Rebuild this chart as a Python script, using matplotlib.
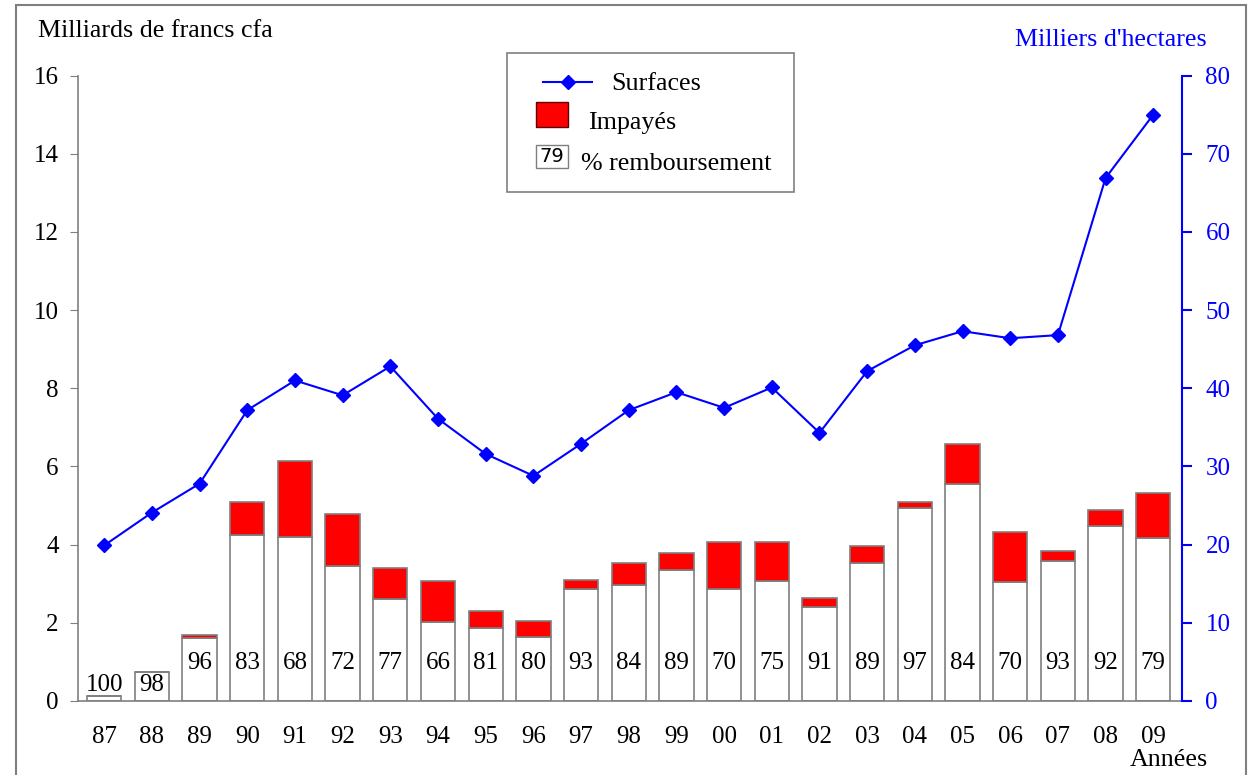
import matplotlib.pyplot as plt
from matplotlib.patches import Rectangle
from matplotlib.lines import Line2D

# ----------------------------
# Data
# ----------------------------
years = ["87", "88", "89", "90", "91", "92", "93", "94", "95", "96", "97", "98",
         "99", "00", "01", "02", "03", "04", "05", "06", "07", "08", "09"]
# total credit (milliards FCFA) and the repaid part
total = [0.13, 0.74, 1.69, 5.09, 6.14, 4.79, 3.40, 3.07, 2.30, 2.05, 3.10, 3.53,
         3.79, 4.07, 4.07, 2.64, 3.97, 5.10, 6.58, 4.33, 3.84, 4.89, 5.32]
repaid = [0.13, 0.74, 1.61, 4.25, 4.20, 3.46, 2.61, 2.02, 1.87, 1.64, 2.87, 2.97,
          3.35, 2.87, 3.07, 2.41, 3.53, 4.94, 5.56, 3.05, 3.58, 4.48, 4.17]
pct = [100, 98, 96, 83, 68, 72, 77, 66, 81, 80, 93, 84,
       89, 70, 75, 91, 89, 97, 84, 70, 93, 92, 79]
# surfaces (milliers d'hectares)
surfaces = [19.9, 24.1, 27.8, 37.2, 41.0, 39.1, 42.8, 36.1, 31.6, 28.8, 32.9, 37.2,
            39.5, 37.5, 40.1, 34.3, 42.2, 45.5, 47.3, 46.4, 46.8, 66.9, 75.0]

unpaid = [t - r for t, r in zip(total, repaid)]
x = list(range(len(years)))

plt.rcParams["font.family"] = ["Liberation Serif", "DejaVu Serif"]
grey = "#7f7f7f"
blue = "#0000ff"
fs = 18
fs_title = 18.7

fig = plt.figure(figsize=(12.52, 7.75), dpi=100)
ax = fig.add_axes([0.0623, 0.0955, 0.8817, 0.807])

ax.bar(x, repaid, width=0.72, color="white", edgecolor=grey, linewidth=1.2, zorder=2)
ax.bar(x, unpaid, bottom=repaid, width=0.72, color="#ff0000", edgecolor=grey,
       linewidth=1.2, zorder=2)

for xi, r, p in zip(x, repaid, pct):
    if r < 1:
        ax.text(xi, 0.41, str(p), ha="center", va="center", fontsize=fs, zorder=3)
    else:
        ax.text(xi, min(1.25, r - 0.2), str(p), ha="center", va="top", fontsize=fs,
                zorder=3)

ax.set_xlim(-0.55, 22.6)
ax.set_ylim(0, 16)
ax.set_yticks(range(0, 17, 2))
ax.set_xticks(x)
ax.set_xticklabels(years)
ax.tick_params(axis="x", length=0, pad=18, labelsize=fs)
ax.tick_params(axis="y", length=6, color=grey, labelsize=fs, pad=8)
for s in ["top", "right"]:
    ax.spines[s].set_visible(False)
ax.spines["left"].set_color(grey)
ax.spines["bottom"].set_color(grey)
ax.spines["left"].set_linewidth(1.2)
ax.spines["bottom"].set_linewidth(1.2)

ax2 = ax.twinx()
ax2.plot(x, surfaces, color=blue, marker="D", markersize=7.5, linewidth=1.5, zorder=4)
ax2.set_ylim(0, 80)
ax2.set_yticks(range(0, 81, 10))
ax2.tick_params(axis="y", colors=blue, length=7, width=1.5, labelsize=fs, pad=10)
for s in ["top", "left", "bottom"]:
    ax2.spines[s].set_visible(False)
ax2.spines["right"].set_color(blue)
ax2.spines["right"].set_linewidth(1.5)

# axis titles
fig.text(0.030, 0.960, "Milliards de francs cfa", fontsize=fs_title, ha="left",
         va="center")
fig.text(0.964, 0.948, "Milliers d'hectares", fontsize=fs_title, ha="right",
         va="center", color=blue)
fig.text(0.934, 0.019, "Années", fontsize=fs_title, ha="center", va="center")

# legend box drawn by hand
fig.patches.append(Rectangle((0.405, 0.752), 0.229, 0.180, transform=fig.transFigure,
                             facecolor="white", edgecolor=grey, linewidth=1.2, zorder=5))
fig.lines.append(Line2D([0.434, 0.473], [0.894, 0.894], transform=fig.transFigure,
                        color=blue, linewidth=1.5, zorder=6))
fig.lines.append(Line2D([0.4535], [0.894], transform=fig.transFigure, color=blue,
                        marker="D", markersize=7.5, zorder=7))
fig.text(0.488, 0.891, "Surfaces", fontsize=fs_title, va="center", zorder=7)
fig.patches.append(Rectangle((0.428, 0.836), 0.0256, 0.032, transform=fig.transFigure,
                             facecolor="#ff0000", edgecolor="#600000", linewidth=1,
                             zorder=6))
fig.text(0.470, 0.841, "Impayés", fontsize=fs_title, va="center", zorder=7)
fig.patches.append(Rectangle((0.428, 0.783), 0.0256, 0.030, transform=fig.transFigure,
                             facecolor="white", edgecolor=grey, linewidth=1, zorder=6))
fig.text(0.4408, 0.798, "79", fontsize=14, ha="center", va="center",
         family="DejaVu Sans", zorder=7)
fig.text(0.464, 0.788, "% remboursement", fontsize=fs_title, va="center", zorder=7)

# outer frame
fig.patches.append(Rectangle((0.0125, -0.01), 0.983, 1.003, transform=fig.transFigure,
                             facecolor="none", edgecolor=grey, linewidth=1.5, zorder=8))

fig.savefig("out.png", dpi=100)
